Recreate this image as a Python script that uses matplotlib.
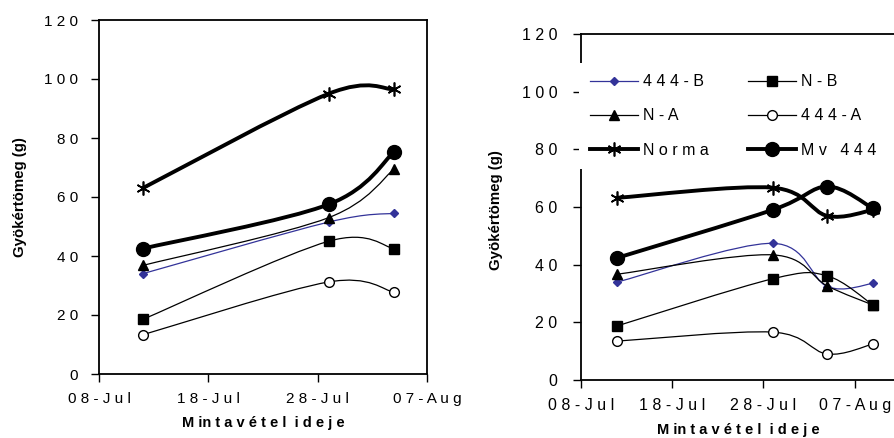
import datetime as dt
import matplotlib
matplotlib.use("Agg")
import matplotlib.pyplot as plt
import matplotlib.dates as mdates
from matplotlib.path import Path
from matplotlib.patches import PathPatch

plt.rcParams['font.family'] = ['Liberation Sans', 'DejaVu Sans']

# sampling dates
dates_left = [dt.date(2003, 7, 12), dt.date(2003, 7, 29), dt.date(2003, 8, 4)]
dates_right = [dt.date(2003, 7, 12), dt.date(2003, 7, 29), dt.date(2003, 8, 4), dt.date(2003, 8, 9)]

# left chart values
left_444B = [34, 51.5, 54.5]
left_NB = [18.5, 45, 42.5]
left_NA = [36.8, 53, 69.5]
left_444A = [13.3, 31.2, 27.7]
left_norma = [63, 95, 96.5]
left_mv444 = [42.5, 57.5, 75.3]

# right chart values
right_444B = [34, 47.4, 32.4, 33.5]
right_NB = [18.8, 35.1, 36.1, 26]
right_NA = [36.7, 43.4, 32.6, 26]
right_444A = [13.5, 16.6, 9, 12.5]
right_norma = [63.2, 66.7, 56.9, 59]
right_mv444 = [42.4, 59, 67.1, 59.5]

series_names = ['4 4 4 - B', 'N - B', 'N - A', '4 4 4 - A', 'N o r m a', 'M v   4 4 4']
styles = [
    dict(color='#333399', lw=0.9, marker='D', ms=4.5, mfc='#333399', mec='#333399'),
    dict(color='black', lw=0.9, marker='s', ms=7.5, mfc='black', mec='black'),
    dict(color='black', lw=0.9, marker='^', ms=7.5, mfc='black', mec='black'),
    dict(color='black', lw=0.9, marker='o', ms=7, mfc='white', mec='black'),
    dict(color='black', lw=2.8, marker=(6, 2, 0), ms=10, mfc='black', mec='black', mew=1.2),
    dict(color='black', lw=2.8, marker='o', ms=10, mfc='black', mec='black'),
]

ytick_labels = ['0', '2 0', '4 0', '6 0', '8 0', '1 0 0', '1 2 0']
xtick_dates = [dt.date(2003, 7, 8), dt.date(2003, 7, 18), dt.date(2003, 7, 28), dt.date(2003, 8, 7)]
xtick_labels = ['0 8 - J u l', '1 8 - J u l', '2 8 - J u l', '0 7 - A u g']


def smooth_line(ax, dates, vals, st):
    # Excel style smoothed line drawn as bezier segments through the points
    xs = [mdates.date2num(d) for d in dates]
    pts = list(zip(xs, vals))
    n = len(pts)
    verts = [pts[0]]
    codes = [Path.MOVETO]
    for i in range(n - 1):
        p0 = pts[i - 1] if i > 0 else pts[i]
        p1 = pts[i]
        p2 = pts[i + 1]
        p3 = pts[i + 2] if i + 2 < n else pts[i + 1]
        c1 = (p1[0] + (p2[0] - p0[0]) / 6, p1[1] + (p2[1] - p0[1]) / 6)
        c2 = (p2[0] - (p3[0] - p1[0]) / 6, p2[1] - (p3[1] - p1[1]) / 6)
        verts += [c1, c2, p2]
        codes += [Path.CURVE4] * 3
    ax.add_patch(PathPatch(Path(verts, codes), fill=False, edgecolor=st['color'],
                           lw=st['lw'], zorder=2, capstyle='round', joinstyle='round'))
    ax.plot(dates, vals, linestyle='none', marker=st['marker'], ms=st['ms'],
            mfc=st['mfc'], mec=st['mec'], mew=st.get('mew', 1.0), zorder=3)


def setup_axes(ax, xmin, xmax, fs, ypad):
    ax.set_xlim(mdates.date2num(xmin), mdates.date2num(xmax))
    ax.set_ylim(0, 120)
    ax.set_yticks(range(0, 121, 20))
    ax.set_yticklabels(ytick_labels)
    ax.set_xticks([mdates.date2num(d) for d in xtick_dates])
    ax.set_xticklabels(xtick_labels)
    ax.tick_params(direction='out', length=6, width=1, labelsize=fs)
    ax.tick_params(axis='y', pad=ypad)
    ax.tick_params(axis='x', pad=7)
    for sp in ax.spines.values():
        sp.set_linewidth(1.3)
    ax.set_ylabel('Gyökértömeg (g)', fontsize=10.8, fontweight='bold')
    ax.set_xlabel('M in t a v é t e l  i d e j e', fontsize=10.5, fontweight='bold')


fig = plt.figure(figsize=(8.94, 4.38), dpi=100)

# left panel
ax1 = fig.add_axes([99 / 894, 64 / 438, 328 / 894, 354 / 438])
left_data = [left_444B, left_NB, left_NA, left_444A, left_norma, left_mv444]
for vals, st in zip(left_data, styles):
    smooth_line(ax1, dates_left, vals, st)
setup_axes(ax1, dt.date(2003, 7, 8), dt.date(2003, 8, 7), 11, 9)
ax1.yaxis.set_label_coords(-0.22, 0.5)
ax1.xaxis.set_label_coords(0.5, -0.118)

# right panel (cut off at the right edge)
ax2 = fig.add_axes([581 / 894, 58 / 438, 365 / 894, 346 / 438])
right_data = [right_444B, right_NB, right_NA, right_444A, right_norma, right_mv444]
for vals, st in zip(right_data, styles):
    smooth_line(ax2, dates_right, vals, st)
setup_axes(ax2, dt.date(2003, 7, 8), dt.date(2003, 8, 17), 11.5, 11)
ax2.yaxis.set_label_coords(-0.214, 0.49)
ax2.xaxis.set_label_coords(0.43, -0.125)

# legend handles, column-wise order for 3 rows x 2 columns
handles = []
for name, st in zip(series_names, styles):
    h, = ax2.plot([], [], color=st['color'], lw=st['lw'], marker=st['marker'], ms=st['ms'],
                  mfc=st['mfc'], mec=st['mec'], mew=st.get('mew', 1.0), label=name)
    handles.append(h)
order = [0, 2, 4, 1, 3, 5]
# white legend box sits over the left spine, as in the original
leg = ax2.legend([handles[i] for i in order], [series_names[i] for i in order],
                 ncol=2, loc='upper left', bbox_to_anchor=(-0.006, 0.916),
                 borderaxespad=0, frameon=True, framealpha=1, edgecolor='none',
                 fancybox=False, fontsize=11.5, handlelength=3.0, labelspacing=1.2,
                 columnspacing=2.5, handletextpad=0.3, borderpad=0.7)
leg.set_zorder(5)

fig.savefig('out.png', dpi=100)
